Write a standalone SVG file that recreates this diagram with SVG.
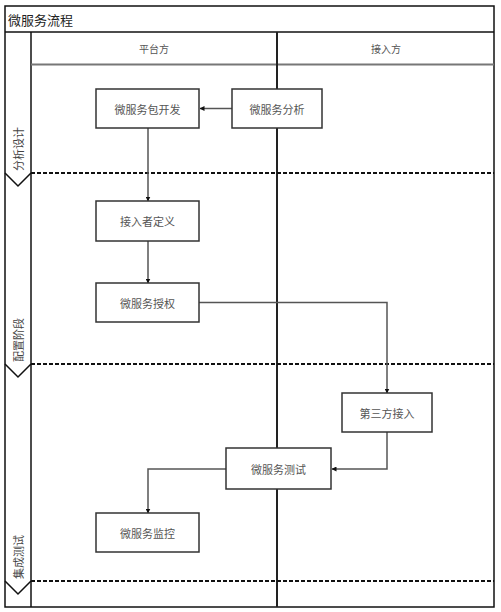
<svg xmlns="http://www.w3.org/2000/svg" width="501" height="612" viewBox="0 0 501 612">
<style>
.frame{fill:none;stroke:#111;stroke-width:1.5}
.dash{fill:none;stroke:#111;stroke-width:2;stroke-dasharray:4 2}
.box{fill:#fff;stroke:#333;stroke-width:1.5}
.lbl{font-family:"Noto Sans CJK SC",sans-serif;font-size:11px;fill:#555;text-anchor:middle;dominant-baseline:central}
.hdr{font-family:"Noto Sans CJK SC",sans-serif;font-size:10px;fill:#555;text-anchor:middle;dominant-baseline:central}
.phase{font-family:"Noto Sans CJK SC",sans-serif;font-size:11px;fill:#444;text-anchor:start;dominant-baseline:central}
.conn{fill:none;stroke:#555;stroke-width:1.5}
</style>
<defs>
<marker id="arr" viewBox="0 0 10 10" refX="9" refY="5" markerWidth="5" markerHeight="5" orient="auto" markerUnits="userSpaceOnUse">
<path d="M0,0 L10,5 L0,10 z" fill="#111"/>
</marker>
</defs>
<rect width="501" height="612" fill="#fff"/>
<g id="pool">
<rect class="frame" x="5" y="6" width="489" height="601"/>
<line class="frame" x1="5" y1="32" x2="494" y2="32"/>
<text x="8" y="19" font-family="Noto Sans CJK SC,sans-serif" font-size="13" fill="#222" dominant-baseline="central">微服务流程</text>
<line class="frame" x1="31" y1="32" x2="31" y2="607"/>
<line x1="31" y1="64.5" x2="494" y2="64.5" stroke="#777" stroke-width="2"/>
<line x1="277" y1="32" x2="277" y2="607" stroke="#222" stroke-width="2"/>
<text class="hdr" x="154" y="48">平台方</text>
<text class="hdr" x="386" y="48">接入方</text>
<line class="dash" x1="31" y1="173" x2="494" y2="173"/>
<line class="dash" x1="31" y1="364" x2="494" y2="364"/>
<line class="dash" x1="31" y1="581" x2="494" y2="581"/>
<polyline class="frame" points="5,173 18,186 31,173"/>
<polyline class="frame" points="5,364 18,377 31,364"/>
<polyline class="frame" points="5,581 18,594 31,581"/>
<text class="phase" transform="translate(18,171) rotate(-90)">分析设计</text>
<text class="phase" transform="translate(18,362) rotate(-90)">配置阶段</text>
<text class="phase" transform="translate(18,579) rotate(-90)">集成测试</text>
</g>
<g id="connectors">
<line class="conn" x1="232" y1="108.5" x2="200" y2="108.5" marker-end="url(#arr)"/>
<line class="conn" x1="148" y1="128" x2="148" y2="201" marker-end="url(#arr)"/>
<line class="conn" x1="148" y1="241" x2="148" y2="283" marker-end="url(#arr)"/>
<polyline class="conn" points="199,302.5 387,302.5 387,393" marker-end="url(#arr)"/>
<polyline class="conn" points="387,432 387,469 332,469" marker-end="url(#arr)"/>
<polyline class="conn" points="226,469 148,469 148,513" marker-end="url(#arr)"/>
</g>
<g id="n1"><rect class="box" x="96" y="89" width="103" height="39"/><text class="lbl" x="147.5" y="108.5">微服务包开发</text></g>
<g id="n2"><rect class="box" x="232" y="89" width="90" height="39"/><text class="lbl" x="277" y="108.5">微服务分析</text></g>
<g id="n3"><rect class="box" x="96" y="201" width="103" height="40"/><text class="lbl" x="147.5" y="221">接入者定义</text></g>
<g id="n4"><rect class="box" x="96" y="283" width="103" height="39"/><text class="lbl" x="147.5" y="302.5">微服务授权</text></g>
<g id="n5"><rect class="box" x="342" y="393" width="90" height="39"/><text class="lbl" x="387" y="412.5">第三方接入</text></g>
<g id="n6"><rect class="box" x="226" y="448" width="105" height="41"/><text class="lbl" x="278.5" y="468.5">微服务测试</text></g>
<g id="n7"><rect class="box" x="96" y="513" width="103" height="39"/><text class="lbl" x="147.5" y="532.5">微服务监控</text></g>
</svg>
